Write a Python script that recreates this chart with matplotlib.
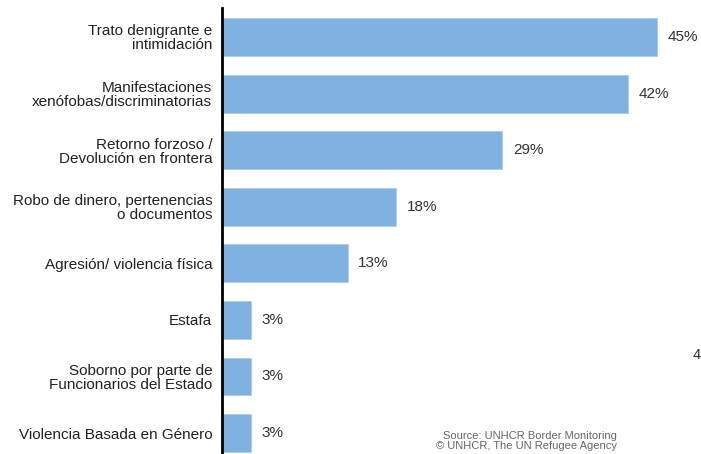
import matplotlib.pyplot as plt

# Datos
categorias = [
    "Trato denigrante e\nintimidación",
    "Manifestaciones\nxenófobas/discriminatorias",
    "Retorno forzoso /\nDevolución en frontera",
    "Robo de dinero, pertenencias\no documentos",
    "Agresión/ violencia física",
    "Estafa",
    "Soborno por parte de\nFuncionarios del Estado",
    "Violencia Basada en Género",
]
valores = [45, 42, 29, 18, 13, 3, 3, 3]
etiquetas = ["45%", "42%", "29%", "18%", "13%", "3%", "3%", "3%"]

plt.rcParams['font.family'] = ['Liberation Sans', 'DejaVu Sans']

W, H = 701, 454
fig = plt.figure(figsize=(W / 100, H / 100), dpi=100)
ax = fig.add_axes([222 / W, 0, (W - 222) / W, (454 - 8) / H])

pos = list(range(len(categorias)))
ax.barh(pos, valores, height=0.67, color='#7fb2e1', edgecolor='#a9cdee', linewidth=0.6)

# escala: 45% -> 435 px
ax.set_xlim(0, (W - 222) / (435 / 45))
ax.set_ylim(7.37, -0.512)

for p, v, t in zip(pos, valores, etiquetas):
    ax.text(v + 1.1, p, t, va='center', ha='left', fontsize=11, color='#333333')

ax.set_yticks(pos)
ax.set_yticklabels(categorias, fontsize=11, color='#222222', linespacing=1.0)
ax.tick_params(axis='y', length=0, pad=7)
ax.set_xticks([])
for s in ['top', 'right', 'bottom']:
    ax.spines[s].set_visible(False)
ax.spines['left'].set_linewidth(2)
ax.spines['left'].set_color('black')

fig.text(617 / W, 1 - 436 / H, "Source: UNHCR Border Monitoring", ha='right', va='center',
         fontsize=8, color='#666666')
fig.text(617 / W, 1 - 446 / H, "© UNHCR, The UN Refugee Agency", ha='right', va='center',
         fontsize=8, color='#666666')
fig.text(697 / W, 1 - 355 / H, "4", ha='center', va='center', fontsize=10.5, color='#333333')

fig.savefig('out.png', dpi=100)
